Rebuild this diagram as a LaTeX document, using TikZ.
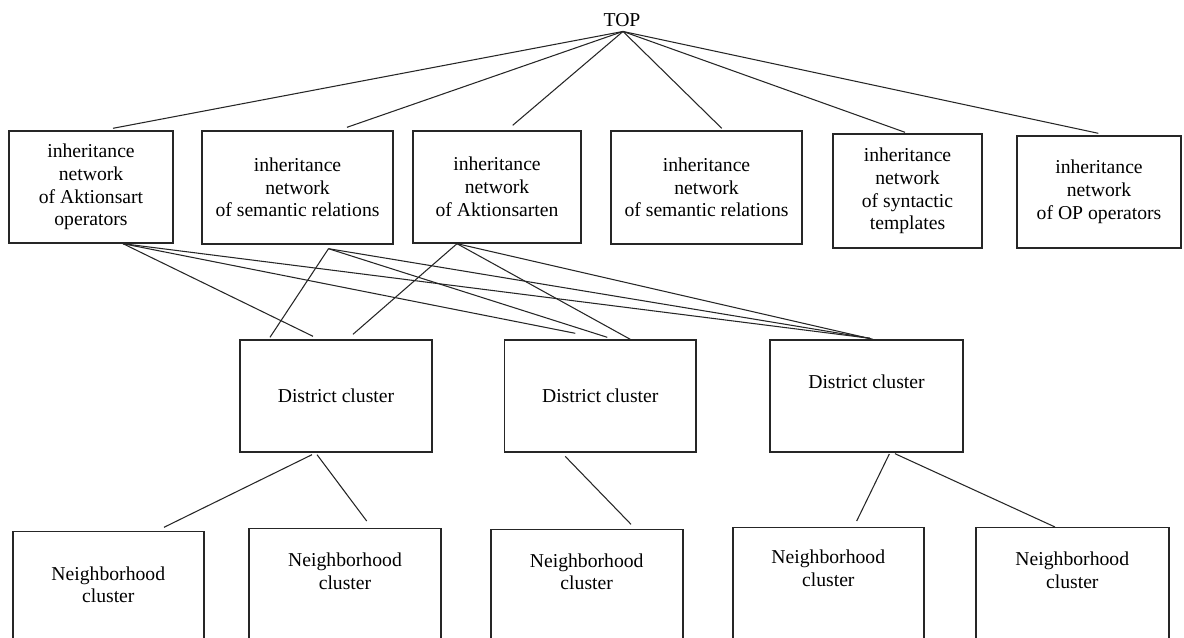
\documentclass[tikz,border=0pt]{standalone}
\usepackage{fontspec}
\setmainfont{Liberation Serif}
\usetikzlibrary{calc}
\begin{document}
\begin{tikzpicture}[x=0.02cm, y=-0.02cm,
  every node/.style={font=\fontsize{11.2pt}{12.95pt}\selectfont, text=black},
  box/.style={draw=black!85, line width=0.8pt, rectangle, inner sep=0pt, align=center},
  lbl/.style={inner sep=0pt, align=center},
  link/.style={draw=black!85, line width=0.6pt}
]
\useasboundingbox (0,0) rectangle (1184,638);
\clip (0,0) rectangle (1184,638);
\fill[white] (0,0) rectangle (1184,638);

% root
\node[lbl] (top) at (622,20.5) {TOP};
\coordinate (topfoot) at ($(top.south)+(1,4)$);

% first level: inheritance networks
\node[box, minimum width=3.28cm, minimum height=2.24cm] (b1) at (91,187)
  {inheritance\\network\\of Aktionsart\\operators};
\node[box, minimum width=3.82cm, minimum height=2.26cm] (b2) at (297.5,187.5)
  {inheritance\\network\\of semantic relations};
\node[box, minimum width=3.36cm, minimum height=2.24cm] (b3) at (497,187)
  {inheritance\\network\\of Aktionsarten};
\node[box, minimum width=3.82cm, minimum height=2.26cm] (b4) at (706.5,187.5)
  {inheritance\\network\\of semantic relations};
\node[box, minimum width=2.98cm, minimum height=2.28cm] (b5) at (907.5,191)
  {inheritance\\network\\of syntactic\\templates};
\node[box, minimum width=3.28cm, minimum height=2.24cm] (b6) at (1099,192)
  {inheritance\\network\\of OP operators};

% second level: district clusters
\node[box, minimum width=3.84cm, minimum height=2.24cm] (d1) at (336,396) {District cluster};
\node[box, minimum width=3.83cm, minimum height=2.24cm] (d2) at (600.25,396) {District cluster};
\node[box, minimum width=3.86cm, minimum height=2.24cm] (d3) at (866.5,396) {};
\node[lbl] (d3t) at (866.5,381.7) {District cluster};

% third level: neighborhood clusters
\node[box, anchor=north, minimum width=3.82cm, minimum height=2.24cm] (n1) at (108.5,530.7) {};
\node[box, anchor=north, minimum width=3.84cm, minimum height=2.24cm] (n2) at (345,528) {};
\node[box, anchor=north, minimum width=3.84cm, minimum height=2.24cm] (n3) at (587,529) {};
\node[box, anchor=north, minimum width=3.82cm, minimum height=2.24cm] (n4) at (828.5,527) {};
\node[box, anchor=north, minimum width=3.86cm, minimum height=2.24cm] (n5) at (1072.5,527) {};
\node[lbl] (n1t) at (108.3,584.7) {Neighborhood\\cluster};
\node[lbl] (n2t) at (345,571.3) {Neighborhood\\cluster};
\node[lbl] (n3t) at (586.7,571.7) {Neighborhood\\cluster};
\node[lbl] (n4t) at (828.3,568.3) {Neighborhood\\cluster};
\node[lbl] (n5t) at (1072.3,570.3) {Neighborhood\\cluster};

% root to first level
\draw[link] (topfoot) -- ($(b1.north)+(22,-2)$);
\draw[link] (topfoot) -- ($(b2.north)+(49.5,-3)$);
\draw[link] (topfoot) -- ($(b3.north)+(15.7,-5)$);
\draw[link] (topfoot) -- ($(b4.north)+(15.2,-2)$);
\draw[link] (topfoot) -- ($(b5.north)+(-2.5,-1)$);
\draw[link] (topfoot) -- ($(b6.north)+(-0.7,-2)$);

% first level to district clusters
\coordinate (b1foot) at ($(b1.south)+(32,0)$);
\coordinate (b2foot) at ($(b2.south)+(31,4)$);
\coordinate (b3foot) at ($(b3.south)+(-40,0)$);

\draw[link] (b1foot) -- ($(d1.north)+(-23,-3)$);
\draw[link] (b1foot) -- ($(d2.north)+(-25,-6)$);
\draw[link] (b1foot) -- ($(d3.north)+(3.5,-1)$);

\draw[link] (b2foot) -- ($(d1.north)+(-66,-2)$);
\draw[link] (b2foot) -- ($(d2.north)+(7,-2)$);
\draw[link] (b2foot) -- ($(d3.north)+(3.5,-1)$);

\draw[link] (b3foot) -- ($(d1.north)+(17,-5)$);
\draw[link] (b3foot) -- ($(d2.north)+(30,0)$);
\draw[link] (b3foot) -- ($(d3.north)+(6.5,0)$);

% district clusters to neighborhood clusters
\draw[link] ($(d1.south)+(-24,2)$) -- ($(n1.north)+(55.5,-3.4)$);
\draw[link] ($(d1.south)+(-19,2)$) -- ($(n2.north)+(21.7,-7)$);
\draw[link] ($(d2.south)+(-35,3.7)$) -- ($(n3.north)+(44,-4.7)$);
\draw[link] ($(d3.south)+(22.8,1.3)$) -- ($(n4.north)+(28.2,-6)$);
\draw[link] ($(d3.south)+(28.5,1)$) -- ($(n5.north)+(-17.5,0)$);
\end{tikzpicture}
\end{document}
